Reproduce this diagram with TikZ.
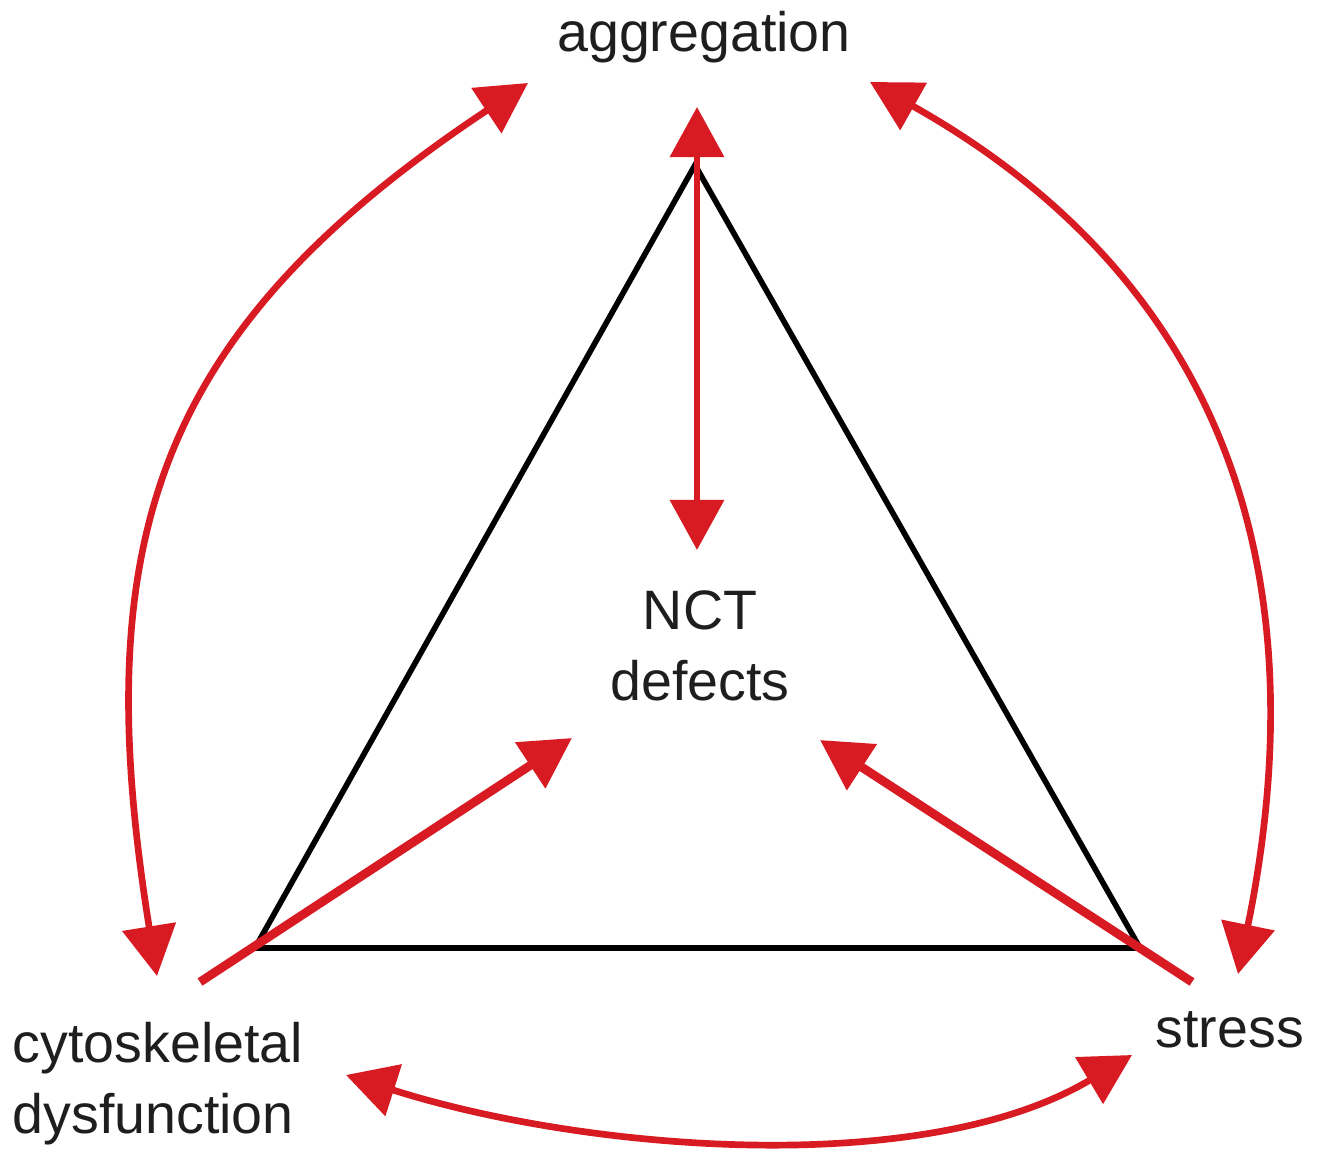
\documentclass[tikz,border=0pt]{standalone}
\usepackage{fontspec}
\setmainfont{Liberation Sans}
\usetikzlibrary{arrows.meta, positioning}
\definecolor{cRed}{RGB}{216,27,35}
\definecolor{cInk}{RGB}{30,30,30}
\tikzset{
	term/.style={font=\fontsize{15.8}{20}\selectfont, text=cInk, inner sep=0pt},
	tri/.style ={draw=black, line width=1.6pt, line join=miter},
	sig/.style ={cRed, line width=2.5pt, -{Triangle[length=5mm, width=5.3mm]}},
	dsig/.style={cRed, line width=1.9pt, {Triangle[length=5mm, width=5.3mm]}-{Triangle[length=5mm, width=5.3mm]}},
}
\begin{document}
\begin{tikzpicture}[x=0.01cm, y=-0.01cm]
	\useasboundingbox (0,0) rectangle (1322,1152);
	% the four terms
	\node[term, anchor=base] (agg) at (704,52) {aggregation};
	\node[term, align=center, anchor=base] (nct) at (700,700) {NCT\\defects};
	\node[term, align=left, anchor=base west] (cyto) at (12,1133) {cytoskeletal\\dysfunction};
	\node[term, anchor=base west] (stress) at (1155,1047) {stress};
	% triangle
	\coordinate (tA) at (695,165);
	\coordinate (tL) at (255,948);
	\coordinate (tR) at (1140,948);
	\draw[tri] (tA) -- (tL) -- (tR) -- cycle;
	% arrow ends
	\coordinate (aggS) at (697,107);
	\coordinate (aggW) at (528,83);
	\coordinate (aggE) at (870,82);
	\coordinate (nctN) at (697,550);
	\coordinate (nctSW) at (572,738);
	\coordinate (nctSE) at (820,740);
	\coordinate (cytoN) at (157,976);
	\coordinate (cytoNE) at (200,982);
	\coordinate (cytoE) at (346,1075);
	\coordinate (stressN) at (1238,974);
	\coordinate (stressNW) at (1192,982);
	\coordinate (stressW) at (1132,1055);
	% links
	\draw[dsig] (nctN) -- (aggS);
	\draw[sig] (cytoNE) -- (nctSW);
	\draw[sig] (stressNW) -- (nctSE);
	\draw[dsig] (aggW) .. controls (155,331) and (87,540) .. (cytoN);
	\draw[dsig] (aggE) .. controls (1201,268) and (1326,543) .. (stressN);
	\draw[dsig] (cytoE) .. controls (581,1150) and (922,1180) .. (stressW);
\end{tikzpicture}
\end{document}
